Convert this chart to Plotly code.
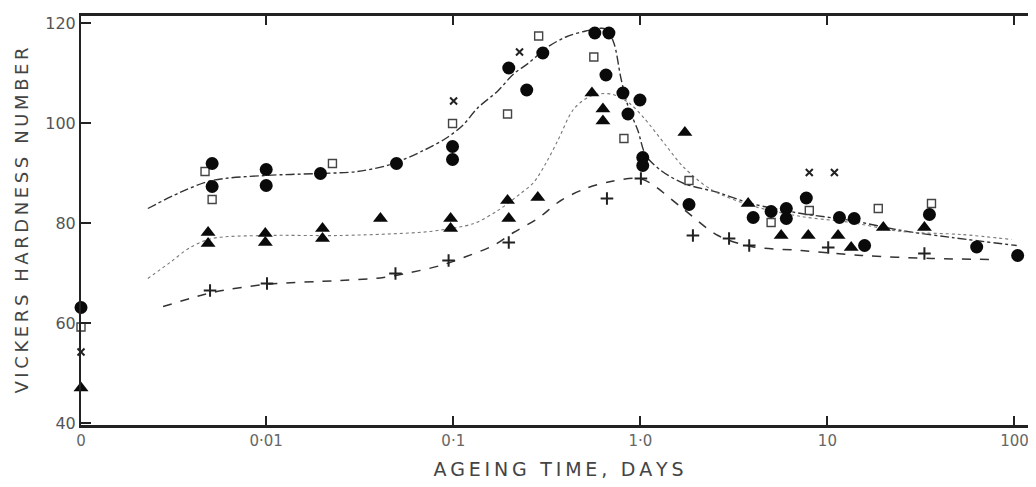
import plotly.graph_objects as go

# ---- data (ageing time in days, Vickers hardness) ; t = 0 is the unaged value ----
circle_t = [0, 0.00514, 0.00514, 0.0100, 0.0100, 0.0195, 0.0497, 0.0991, 0.0991, 0.198, 0.247, 0.301,
            0.571, 0.679, 0.655, 0.807, 0.995, 0.859, 1.03, 1.03, 1.82, 4.01, 5.00, 6.03, 6.03, 7.71,
            11.6, 13.9, 15.8, 35.1, 62.8, 104]
circle_v = [63.1, 91.9, 87.3, 90.7, 87.5, 89.9, 91.9, 95.3, 92.7, 111.0, 106.6, 114.0,
            118.0, 118.0, 109.6, 106.0, 104.6, 101.8, 93.1, 91.5, 83.7, 81.1, 82.3, 82.9, 80.9, 85.0,
            81.1, 80.9, 75.5, 81.7, 75.2, 73.5]

square_t = [0, 0.00514, 0.00471, 0.0226, 0.0991, 0.195, 0.286, 0.564, 0.817, 1.82, 5.0, 8.0, 18.7, 36.0]
square_v = [59.2, 84.7, 90.3, 91.9, 99.9, 101.8, 117.4, 113.2, 96.9, 88.5, 80.1, 82.5, 82.9, 83.9]

tri_t = [0, 0.00489, 0.00489, 0.00989, 0.00989, 0.0200, 0.0200, 0.0408, 0.0968, 0.0968, 0.195, 0.198,
         0.283, 0.551, 0.631, 0.631, 1.73, 3.77, 5.66, 7.90, 11.4, 13.4, 19.9, 33.0]
tri_v = [47.0, 78.1, 75.9, 77.9, 76.1, 78.9, 76.9, 80.9, 80.9, 78.9, 84.5, 80.9,
         85.1, 106.0, 102.8, 100.4, 98.1, 83.9, 77.5, 77.5, 77.5, 75.1, 79.1, 79.1]

plus_t = [0.00501, 0.0101, 0.0491, 0.0944, 0.198, 0.663, 1.007, 1.91, 2.98, 3.82, 10.1, 33.0]
plus_v = [66.5, 67.9, 69.9, 72.5, 76.1, 84.9, 88.9, 77.5, 76.9, 75.5, 75.1, 73.9]

cross_t = [0, 0.1004, 0.226, 8.0, 10.9]
cross_v = [54.2, 104.4, 114.2, 90.1, 90.1]

upper_t = [0.00233, 0.00346, 0.00514, 0.00989, 0.0195, 0.0307, 0.0461, 0.0693, 0.091, 0.1122, 0.1349,
           0.173, 0.210, 0.253, 0.320, 0.400, 0.511, 0.655, 0.722, 0.787, 0.859, 0.970, 1.07, 1.29,
           1.71, 2.60, 3.91, 7.25, 13.4, 24.9, 46.1, 102.8]
upper_v = [82.9, 86.1, 88.5, 89.5, 89.9, 90.3, 91.7, 94.5, 96.9, 99.5, 103.0,
           106.4, 109.8, 112.0, 115.2, 117.2, 118.4, 118.8, 116.0, 109.0, 103.4, 98.5, 93.5, 90.5,
           87.9, 86.1, 83.9, 81.9, 80.5, 78.5, 77.1, 75.5]

middle_t = [0.00233, 0.00306, 0.00392, 0.00514, 0.00989, 0.0249, 0.0650, 0.0824, 0.1285, 0.173, 0.229,
            0.269, 0.312, 0.362, 0.441, 0.544, 0.696, 0.869, 1.045, 1.37, 1.71, 2.39, 3.91, 7.25,
            13.4, 24.9, 52.1, 96.6]
middle_v = [68.9, 72.1, 75.1, 76.9, 77.5, 77.5, 78.1, 78.5, 79.9, 82.5, 85.9,
            88.1, 91.9, 96.5, 102.8, 105.4, 105.8, 104.0, 101.0, 95.5, 91.1, 86.7, 83.5, 81.3,
            80.1, 78.3, 77.7, 76.7]

lower_t = [0.00281, 0.00392, 0.00514, 0.00989, 0.0249, 0.0424, 0.0591, 0.0855, 0.1135, 0.164, 0.210,
           0.283, 0.376, 0.511, 0.696, 0.982, 1.14, 1.71, 2.60, 3.91, 7.25, 15.2, 36.0, 78.4]
lower_v = [63.3, 64.9, 66.1, 67.7, 68.5, 69.1, 70.1, 71.5, 73.1, 75.5, 78.1,
           80.9, 84.5, 86.9, 88.3, 88.9, 87.9, 82.7, 77.5, 75.3, 74.5, 73.5, 72.9, 72.7]

x_tick_vals = [0, 0.01, 0.1, 1.0, 10, 100]
x_tick_text = ["0", "0·01", "0·1", "1·0", "10", "100"]
y_tick_vals = [40, 60, 80, 100, 120]

x_title = "AGEING TIME, DAYS"
y_title = "VICKERS HARDNESS NUMBER"

ZERO_POS = 10 ** -2.99   # where "0" sits on the log axis


def tx(ts):
    return [ZERO_POS if t == 0 else t for t in ts]


def spaced(s):
    # letter-spaced caption, as in the printed figure
    return "\u2009".join(s)


fig = go.Figure()

line_specs = [
    (upper_t, upper_v, "dashdot", 1.4, "#333"),
    (middle_t, middle_v, "dot", 1.1, "#777"),
    (lower_t, lower_v, "dash", 1.5, "#333"),
]
for t, v, dash, w, c in line_specs:
    fig.add_trace(go.Scatter(x=tx(t), y=v, mode="lines",
                             line=dict(shape="spline", smoothing=0.9, dash=dash, width=w, color=c),
                             showlegend=False, hoverinfo="skip"))

marker_specs = [
    (square_t, square_v, dict(symbol="square-open", size=8, color="#444", line=dict(width=1.4, color="#444"))),
    (circle_t, circle_v, dict(symbol="circle", size=13, color="#0a0a0a")),
    (tri_t, tri_v, dict(symbol="triangle-up", size=13, color="#0a0a0a")),
    (plus_t, plus_v, dict(symbol="cross-thin", size=9, line=dict(width=2, color="#222"))),
    (cross_t, cross_v, dict(symbol="x-thin", size=7, line=dict(width=2, color="#222"))),
]
for t, v, m in marker_specs:
    fig.add_trace(go.Scatter(x=tx(t), y=v, mode="markers", marker=m,
                             cliponaxis=False, showlegend=False))

# the page body adds an 8 px offset, so margins are reduced accordingly
fig.update_layout(
    width=1036, height=487,
    margin=dict(l=73, r=8, t=8, b=70),
    paper_bgcolor="white", plot_bgcolor="white",
    font=dict(family="DejaVu Sans", color="#555", size=15),
)

fig.update_xaxes(
    type="log", range=[-2.99, 2.115], automargin=False,
    tickvals=tx(x_tick_vals), ticktext=x_tick_text,
    ticks="inside", ticklen=9, tickwidth=1.5, tickcolor="#222",
    showline=True, linecolor="#222", linewidth=2.5, mirror="ticks",
    showgrid=False, zeroline=False,
    tickfont=dict(size=15, color="#666"),
    title=dict(text=spaced(x_title), font=dict(size=19, color="#444"), standoff=14),
)
fig.update_yaxes(
    range=[39.6, 121.4], automargin=False,
    tickvals=y_tick_vals,
    ticks="inside", ticklen=10, tickwidth=1.5, tickcolor="#222",
    showline=True, linecolor="#222", linewidth=2, mirror=False,
    showgrid=False, zeroline=False,
    tickfont=dict(size=16, color="#555"),
    title=dict(text=spaced(y_title), font=dict(size=18, color="#444"), standoff=12),
)

fig.write_html("out.html")
